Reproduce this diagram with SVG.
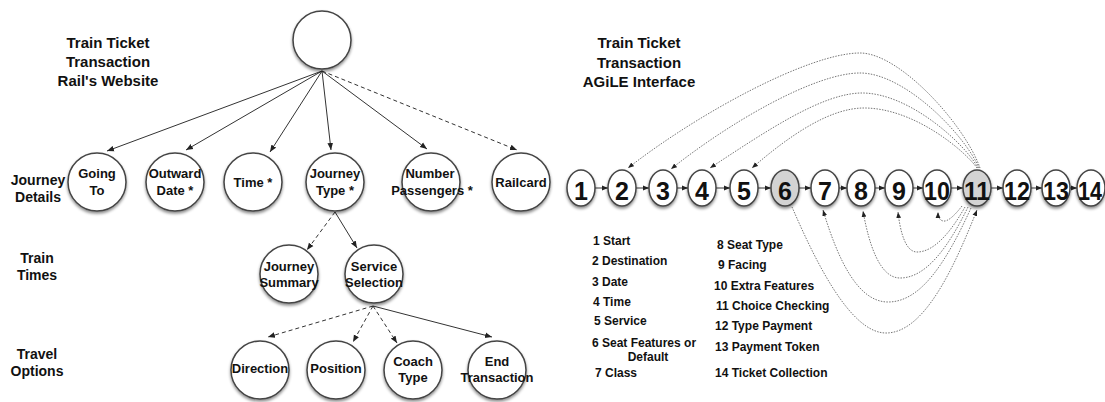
<svg xmlns="http://www.w3.org/2000/svg" width="1105" height="402" viewBox="0 0 1105 402">
  <defs>
    <filter id="shadow" x="-30%" y="-30%" width="160%" height="170%">
      <feDropShadow dx="0" dy="2" stdDeviation="1.6" flood-color="#000" flood-opacity="0.45"/>
    </filter>
    <marker id="arrow" viewBox="0 0 10 10" refX="10" refY="5" markerWidth="7" markerHeight="7" markerUnits="userSpaceOnUse" orient="auto">
      <path d="M0,1 L10,5 L0,9 z" fill="#222"/>
    </marker>
    <marker id="arrowSmall" viewBox="0 0 10 10" refX="10" refY="5" markerWidth="6" markerHeight="6" markerUnits="userSpaceOnUse" orient="auto">
      <path d="M0,1 L10,5 L0,9 z" fill="#222"/>
    </marker>
  </defs>
  <style>
    .bg { fill: #fff; }
    .node { fill: #fff; stroke: #444; stroke-width: 1.5; filter: url(#shadow); }
    .hl { fill: #d3d3d3; }
    .t { font-family: "Liberation Sans", Arial, sans-serif; font-weight: bold; fill: #111; text-anchor: middle; }
    .title { font-size: 15px; }
    .sec { font-size: 14px; }
    .lbl { font-size: 13px; }
    .num { font-size: 25px; }
    .leg { font-family: "Liberation Sans", Arial, sans-serif; font-weight: bold; font-size: 12px; fill: #111; }
    .solid { fill: none; stroke: #333; stroke-width: 1; marker-end: url(#arrow); }
    .dash { fill: none; stroke: #333; stroke-width: 1; stroke-dasharray: 4 3; marker-end: url(#arrow); }
    .step { fill: none; stroke: #333; stroke-width: 1; marker-end: url(#arrowSmall); }
    .loop { fill: none; stroke: #666; stroke-width: 0.9; stroke-dasharray: 1.5 1.3; marker-end: url(#arrowSmall); }
  </style>

  <rect class="bg" x="0" y="0" width="1105" height="402"/>

  <!-- Left panel: website task tree -->
  <text class="t title" x="108" y="47.5">Train Ticket</text>
  <text class="t title" x="108" y="66.5">Transaction</text>
  <text class="t title" x="108" y="85.5">Rail's Website</text>

  <text class="t sec" x="38" y="185">Journey</text>
  <text class="t sec" x="38" y="202">Details</text>
  <text class="t sec" x="37" y="263">Train</text>
  <text class="t sec" x="37" y="280">Times</text>
  <text class="t sec" x="37" y="359">Travel</text>
  <text class="t sec" x="37" y="376">Options</text>

  <g id="connectors-tree">
    <line class="solid" x1="322" y1="71" x2="107" y2="151"/>
    <line class="solid" x1="322" y1="71" x2="186" y2="150"/>
    <line class="solid" x1="322" y1="71" x2="270" y2="152"/>
    <line class="solid" x1="322" y1="71" x2="331" y2="150"/>
    <line class="solid" x1="322" y1="71" x2="427" y2="149"/>
    <line class="dash" x1="322" y1="71" x2="517" y2="150"/>
    <line class="dash" x1="335" y1="212" x2="307" y2="250"/>
    <line class="solid" x1="335" y1="212" x2="357" y2="248"/>
    <line class="dash" x1="373" y1="306" x2="268" y2="337"/>
    <line class="dash" x1="373" y1="306" x2="353" y2="342"/>
    <line class="dash" x1="373" y1="306" x2="397" y2="343"/>
    <line class="solid" x1="373" y1="306" x2="492" y2="337"/>
  </g>

  <g id="root"><circle class="node" cx="322" cy="40" r="29"/></g>

  <g id="going-to">
    <circle class="node" cx="97" cy="182" r="29"/>
    <text class="t lbl" x="97" y="178">Going</text>
    <text class="t lbl" x="97" y="195">To</text>
  </g>
  <g id="outward-date">
    <circle class="node" cx="175" cy="182" r="29"/>
    <text class="t lbl" x="175" y="178">Outward</text>
    <text class="t lbl" x="175" y="195">Date *</text>
  </g>
  <g id="time">
    <circle class="node" cx="253" cy="182" r="29"/>
    <text class="t lbl" x="253" y="187">Time *</text>
  </g>
  <g id="journey-type">
    <circle class="node" cx="335" cy="182" r="29"/>
    <text class="t lbl" x="335" y="178">Journey</text>
    <text class="t lbl" x="335" y="195">Type *</text>
  </g>
  <g id="number-passengers">
    <circle class="node" cx="431" cy="182" r="29"/>
    <text class="t lbl" x="430" y="178">Number</text>
    <text class="t lbl" x="432" y="195">Passengers *</text>
  </g>
  <g id="railcard">
    <circle class="node" cx="521" cy="182" r="29"/>
    <text class="t lbl" x="521" y="187">Railcard</text>
  </g>
  <g id="journey-summary">
    <circle class="node" cx="289" cy="274" r="29"/>
    <text class="t lbl" x="289" y="271">Journey</text>
    <text class="t lbl" x="289" y="287">Summary</text>
  </g>
  <g id="service-selection">
    <circle class="node" cx="374" cy="274" r="29"/>
    <text class="t lbl" x="374" y="271">Service</text>
    <text class="t lbl" x="374" y="287">Selection</text>
  </g>
  <g id="direction">
    <circle class="node" cx="260" cy="370" r="29"/>
    <text class="t lbl" x="260" y="373">Direction</text>
  </g>
  <g id="position">
    <circle class="node" cx="336" cy="370" r="29"/>
    <text class="t lbl" x="336" y="373">Position</text>
  </g>
  <g id="coach-type">
    <circle class="node" cx="413" cy="370" r="29"/>
    <text class="t lbl" x="413" y="366">Coach</text>
    <text class="t lbl" x="413" y="382">Type</text>
  </g>
  <g id="end-transaction">
    <circle class="node" cx="497" cy="370" r="29"/>
    <text class="t lbl" x="497" y="366">End</text>
    <text class="t lbl" x="497" y="382">Transaction</text>
  </g>

  <!-- Right panel: AGiLE step sequence -->
  <text class="t title" x="639" y="48">Train Ticket</text>
  <text class="t title" x="639" y="68">Transaction</text>
  <text class="t title" x="639" y="87">AGiLE Interface</text>

  <g id="connectors-steps">
    <line class="step" x1="595" y1="188" x2="608" y2="188"/>
    <line class="step" x1="636" y1="188" x2="649" y2="188"/>
    <line class="step" x1="677" y1="188" x2="688" y2="188"/>
    <line class="step" x1="716" y1="188" x2="730" y2="188"/>
    <line class="step" x1="758" y1="188" x2="771" y2="188"/>
    <line class="step" x1="799" y1="188" x2="811" y2="188"/>
    <line class="step" x1="839" y1="188" x2="847" y2="188"/>
    <line class="step" x1="875" y1="188" x2="885" y2="188"/>
    <line class="step" x1="913" y1="188" x2="923" y2="188"/>
    <line class="step" x1="951" y1="188" x2="963" y2="188"/>
    <line class="step" x1="991" y1="188" x2="1003" y2="188"/>
    <line class="step" x1="1031" y1="188" x2="1042" y2="188"/>
    <line class="step" x1="1070" y1="188" x2="1077" y2="188"/>
    <!-- returns from choice checking, over the top -->
    <path class="loop" d="M980 168 C965 125 900 53 860 53 C810 53 700 112 628 168"/>
    <path class="loop" d="M979 168 C965 135 905 73 860 73 C815 73 730 122 671 169"/>
    <path class="loop" d="M978 168 C966 145 910 93 862 93 C822 93 765 132 710 168"/>
    <path class="loop" d="M977 168 C966 152 915 108 864 108 C830 108 790 135 752 168"/>
    <!-- returns underneath -->
    <path class="loop" d="M792 207 C815 260 850 333 886 333 C925 333 955 265 977 210"/>
    <path class="loop" d="M971 208 C945 265 920 302 888 302 C858 302 838 260 823 210"/>
    <path class="loop" d="M968 207 C947 250 925 278 900 278 C880 278 869 245 863 211"/>
    <path class="loop" d="M965 207 C952 230 935 252 917 252 C905 252 900 230 898 212"/>
    <path class="loop" d="M962 206 C955 215 948 222 943 221 C939 220 938 216 938 212"/>
  </g>

  <g id="step-1"><ellipse class="node" cx="581" cy="188" rx="14" ry="18"/><text class="t num" x="581" y="200">1</text></g>
  <g id="step-2"><ellipse class="node" cx="622" cy="188" rx="14" ry="18"/><text class="t num" x="622" y="200">2</text></g>
  <g id="step-3"><ellipse class="node" cx="663" cy="188" rx="14" ry="18"/><text class="t num" x="663" y="200">3</text></g>
  <g id="step-4"><ellipse class="node" cx="702" cy="188" rx="14" ry="18"/><text class="t num" x="702" y="200">4</text></g>
  <g id="step-5"><ellipse class="node" cx="744" cy="188" rx="14" ry="18"/><text class="t num" x="744" y="200">5</text></g>
  <g id="step-6"><ellipse class="node hl" cx="785" cy="188" rx="14" ry="18"/><text class="t num" x="785" y="200">6</text></g>
  <g id="step-7"><ellipse class="node" cx="825" cy="188" rx="14" ry="18"/><text class="t num" x="825" y="200">7</text></g>
  <g id="step-8"><ellipse class="node" cx="861" cy="188" rx="14" ry="18"/><text class="t num" x="861" y="200">8</text></g>
  <g id="step-9"><ellipse class="node" cx="899" cy="188" rx="14" ry="18"/><text class="t num" x="899" y="200">9</text></g>
  <g id="step-10"><ellipse class="node" cx="937" cy="188" rx="14" ry="18"/><text class="t num" x="937" y="200" textLength="26" lengthAdjust="spacingAndGlyphs">10</text></g>
  <g id="step-11"><ellipse class="node hl" cx="977" cy="188" rx="14" ry="18"/><text class="t num" x="977" y="200" textLength="26" lengthAdjust="spacingAndGlyphs">11</text></g>
  <g id="step-12"><ellipse class="node" cx="1017" cy="188" rx="14" ry="18"/><text class="t num" x="1017" y="200" textLength="26" lengthAdjust="spacingAndGlyphs">12</text></g>
  <g id="step-13"><ellipse class="node" cx="1056" cy="188" rx="14" ry="18"/><text class="t num" x="1056" y="200" textLength="26" lengthAdjust="spacingAndGlyphs">13</text></g>
  <g id="step-14"><ellipse class="node" cx="1091" cy="188" rx="14" ry="18"/><text class="t num" x="1090" y="200" textLength="24" lengthAdjust="spacingAndGlyphs">14</text></g>

  <g id="legend">
    <text class="leg" x="593" y="245">1 Start</text>
    <text class="leg" x="592" y="265">2 Destination</text>
    <text class="leg" x="592" y="286">3 Date</text>
    <text class="leg" x="593" y="306">4 Time</text>
    <text class="leg" x="594" y="325">5 Service</text>
    <text class="leg" x="592" y="346.5">6 Seat Features or</text>
    <text class="leg" x="648" y="361" text-anchor="middle">Default</text>
    <text class="leg" x="595" y="377">7 Class</text>
    <text class="leg" x="717" y="249">8 Seat Type</text>
    <text class="leg" x="718" y="269">9 Facing</text>
    <text class="leg" x="714" y="290">10 Extra Features</text>
    <text class="leg" x="716" y="310">11 Choice Checking</text>
    <text class="leg" x="715" y="330">12 Type Payment</text>
    <text class="leg" x="715" y="351">13 Payment Token</text>
    <text class="leg" x="715" y="377">14 Ticket Collection</text>
  </g>
</svg>
